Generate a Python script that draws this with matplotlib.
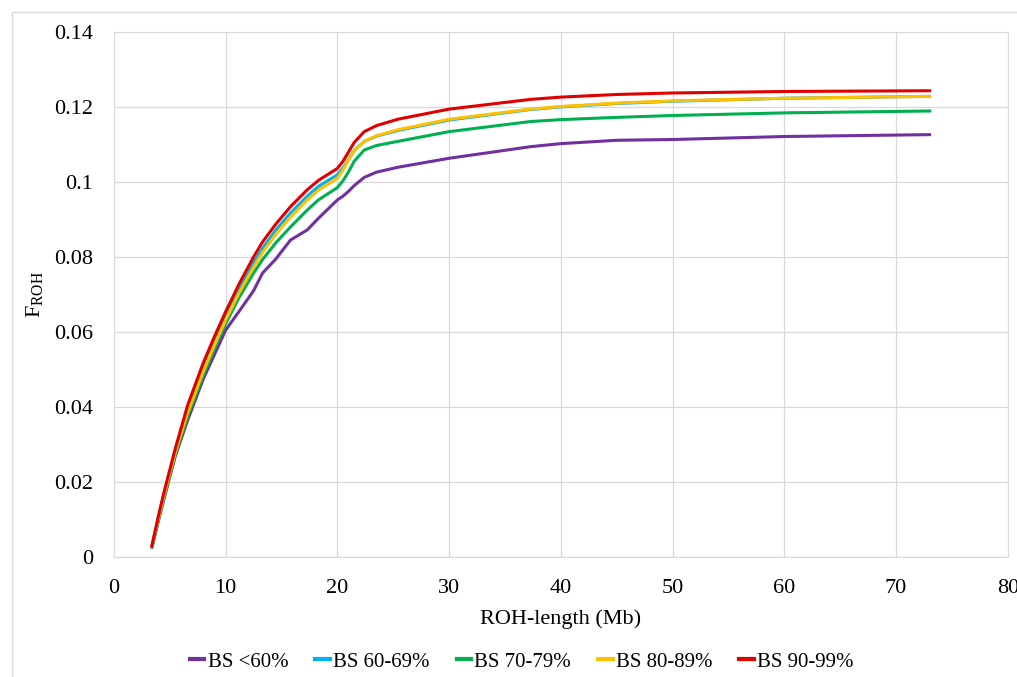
import numpy as np
import matplotlib
matplotlib.use('Agg')
import matplotlib.pyplot as plt
from matplotlib.lines import Line2D

plt.rcParams['font.family'] = ['Liberation Serif', 'DejaVu Serif']

# ROH length (Mb) and F_ROH curves
x = [3.4, 4.0, 4.5, 5.5, 6.6, 8, 9, 10, 11.2, 12.5, 13.3, 14.5, 15.8, 17.3, 18.3, 20,
     20.5, 21, 21.5, 22.4, 23.5, 25.4, 30, 37.3, 40, 45, 50, 60, 73]

bs_lt60 = [0.0027, 0.0099, 0.0157, 0.027, 0.0365, 0.0475, 0.054, 0.0605, 0.0655, 0.071,
           0.0757, 0.0795, 0.0845, 0.0872, 0.0903, 0.0952, 0.0962, 0.0975, 0.099, 0.1012,
           0.1026, 0.1039, 0.1063, 0.1094, 0.1102, 0.1111, 0.1113, 0.1121, 0.1126]
bs_60_69 = [0.003, 0.0108, 0.017, 0.0285, 0.0395, 0.0505, 0.0575, 0.0641, 0.0714, 0.0784,
            0.0823, 0.0872, 0.0917, 0.0962, 0.0988, 0.1019, 0.1037, 0.106, 0.1083, 0.1108,
            0.1122, 0.1137, 0.1165, 0.1193, 0.1200, 0.1209, 0.1215, 0.1223, 0.1228]
bs_70_79 = [0.0027, 0.0102, 0.0162, 0.0275, 0.0375, 0.0485, 0.0555, 0.0622, 0.0692, 0.0757,
            0.0793, 0.0838, 0.0880, 0.0925, 0.0952, 0.0985, 0.1003, 0.1027, 0.1055, 0.1085,
            0.1097, 0.1108, 0.1134, 0.1161, 0.1166, 0.1172, 0.1177, 0.1184, 0.1189]
bs_80_89 = [0.003, 0.0106, 0.0167, 0.028, 0.0385, 0.0495, 0.0565, 0.0632, 0.0704, 0.0773,
            0.0812, 0.0861, 0.0906, 0.0952, 0.0978, 0.101, 0.1032, 0.1059, 0.1083, 0.1108,
            0.1123, 0.1139, 0.1167, 0.1194, 0.1201, 0.1210, 0.1216, 0.1223, 0.1228]
bs_90_99 = [0.003, 0.0112, 0.0175, 0.029, 0.0405, 0.0518, 0.0588, 0.0654, 0.0728, 0.0800,
            0.0840, 0.0888, 0.0934, 0.0979, 0.1004, 0.1036, 0.1055, 0.108, 0.1105, 0.1134,
            0.1150, 0.1167, 0.1194, 0.1220, 0.1226, 0.1233, 0.1237, 0.1241, 0.1243]

series = [
    ('BS <60%', bs_lt60, '#7030A0'),
    ('BS 60-69%', bs_60_69, '#00B0F0'),
    ('BS 70-79%', bs_70_79, '#00B050'),
    ('BS 80-89%', bs_80_89, '#FFC000'),
    ('BS 90-99%', bs_90_99, '#E00000'),
]

fig = plt.figure(figsize=(10.17, 6.77), dpi=100)
# outer chart-area border (only top and left edges fall inside the picture)
fig.lines.append(Line2D([0.012, 0.012, 1.0], [0.0, 0.982, 0.982], transform=fig.transFigure,
                        color='#d9d9d9', linewidth=1))
ax = fig.add_axes([0.112, 0.177, 0.879, 0.776])

for label, vals, color in series:
    ax.plot(x, vals, color=color, linewidth=2.2, label=label,
            solid_joinstyle='round')

ax.set_xlim(0, 80)
ax.set_ylim(0, 0.14)
ax.set_xticks(np.arange(0, 81, 10))
ax.set_yticks(np.arange(0, 0.141, 0.02))
ax.set_yticklabels(['0', '0.02', '0.04', '0.06', '0.08', '0.1', '0.12', '0.14'])
ax.grid(True, color='#d9d9d9', linewidth=0.9)
ax.set_axisbelow(True)
for s in ax.spines.values():
    s.set_color('#d9d9d9')
ax.tick_params(length=0, labelsize=16)
ax.tick_params(axis='y', pad=15)
ax.tick_params(axis='x', pad=16)

ax.set_xlabel('ROH-length (Mb)', fontsize=16, labelpad=8)
ax.set_ylabel(r'F$_{\mathregular{ROH}}$', fontsize=16, labelpad=6)

leg = fig.legend(loc='lower center', bbox_to_anchor=(0.513, -0.02), ncol=5, frameon=False,
                 fontsize=15, handlelength=0.7, handletextpad=0.15, columnspacing=1.3)
for h in leg.get_lines():
    h.set_linewidth(3)

fig.savefig('out.png', dpi=100)
